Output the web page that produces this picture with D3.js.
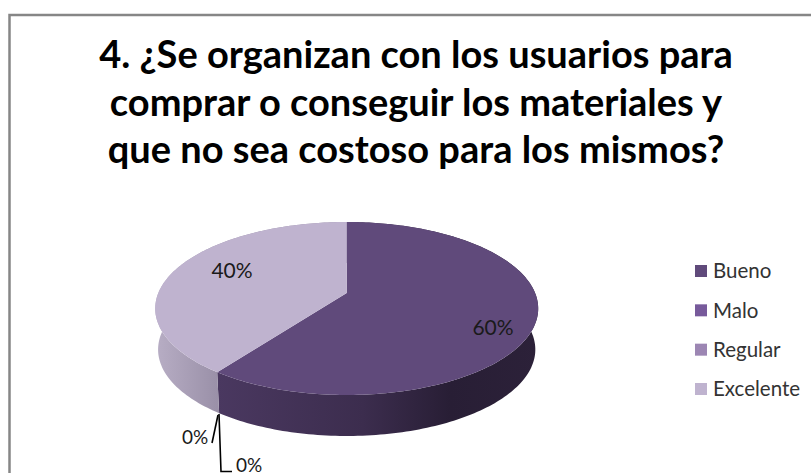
<!DOCTYPE html>
<html>
<head>
<meta charset="utf-8">
<script src="https://cdn.jsdelivr.net/npm/d3@7"></script>
<style>
  html, body { margin: 0; padding: 0; background: #fff; }
  svg { display: block; }
  text { font-family: Lato, "Open Sans", sans-serif; }
</style>
</head>
<body>
<div id="chart"></div>
<script>
var titleLines = ["4. ¿Se organizan con los usuarios para", "comprar o conseguir los materiales y", "que no sea costoso para los mismos?"];
var categories = ["Bueno", "Malo", "Regular", "Excelente"];
var values = [60, 0, 0, 40];
var colors = ["#604a7b", "#775a9b", "#9c86b3", "#bfb3cf"];

var svg = d3.select("#chart").append("svg").attr("width", 811).attr("height", 473);

// frame: only top and left show, the rest is cropped off
svg.append("path").attr("d", "M811,15H9.5V473")
    .attr("fill", "none").attr("stroke", "#868686").attr("stroke-width", 2.5);

svg.selectAll(".title").data(titleLines).enter().append("text")
    .attr("class", "title")
    .attr("x", 416)
    .attr("y", function (d, i) { return 68 + i * 47.5; })
    .attr("text-anchor", "middle")
    .attr("font-size", 38)
    .attr("font-weight", 700)
    .attr("fill", "#000")
    .text(function (d) { return d; });

// pie is tilted: unit circle goes through a perspective projection
var cx = 346.7, apexY = 293, kx = 188.4, ky = 31.3, persp = -0.179;
var depth = 41, bottomScale = 0.985;

function project(angle, scale, dy) {
    var u = Math.sin(angle), v = -Math.cos(angle);
    var w = 1 + persp * v;
    return [cx + scale * kx * u / w, (ky * v + apexY) / w + dy];
}

function rim(a0, a1, scale, dy) {
    var n = Math.max(2, Math.ceil(Math.abs(a1 - a0) / 0.02));
    return d3.range(n + 1).map(function (i) {
        return project(a0 + (a1 - a0) * i / n, scale, dy);
    });
}

var line = d3.line();
var pie = d3.pie().sort(null).value(function (d) { return d; });
var arcs = pie(values);

var defs = svg.append("defs");
var wallDark = defs.append("linearGradient").attr("id", "wallDark")
    .attr("gradientUnits", "userSpaceOnUse")
    .attr("x1", 218).attr("x2", 540).attr("y1", 0).attr("y2", 0);
wallDark.append("stop").attr("offset", 0).attr("stop-color", "#4a3860");
wallDark.append("stop").attr("offset", 0.45).attr("stop-color", "#3c2d4e");
wallDark.append("stop").attr("offset", 0.72).attr("stop-color", "#281e35");
wallDark.append("stop").attr("offset", 1).attr("stop-color", "#2c2139");
var wallLight = defs.append("linearGradient").attr("id", "wallLight")
    .attr("gradientUnits", "userSpaceOnUse")
    .attr("x1", 155).attr("x2", 218).attr("y1", 0).attr("y2", 0);
wallLight.append("stop").attr("offset", 0).attr("stop-color", "#b8aec5");
wallLight.append("stop").attr("offset", 1).attr("stop-color", "#9a90a8");

// side walls first
var wallFill = ["url(#wallDark)", null, null, "url(#wallLight)"];
arcs.forEach(function (a, i) {
    if (a.endAngle - a.startAngle <= 0) return;
    var top = rim(a.startAngle, a.endAngle, 1, 0);
    var bottom = rim(a.endAngle, a.startAngle, bottomScale, depth);
    svg.append("path").attr("d", line(top.concat(bottom)) + "Z").attr("fill", wallFill[i]);
});

// top faces
arcs.forEach(function (a, i) {
    if (a.endAngle - a.startAngle <= 0) return;
    var pts = rim(a.startAngle, a.endAngle, 1, 0);
    pts.push([cx, apexY]);
    svg.append("path").attr("d", line(pts) + "Z").attr("fill", colors[i]);
});

// leader lines of the two empty slices
svg.append("path").attr("d", "M218,415L212,443").attr("fill", "none").attr("stroke", "#000").attr("stroke-width", 1.6);
svg.append("path").attr("d", "M219,414L221,471.5L232,471.5").attr("fill", "none").attr("stroke", "#000").attr("stroke-width", 1.6);

// data labels, Bueno / Malo / Regular / Excelente
var labelX = [493, 195, 249, 232];
var labelY = [327, 437, 465, 270];
svg.selectAll(".lbl").data(values).enter().append("text")
    .attr("class", "lbl")
    .attr("x", function (d, i) { return labelX[i]; })
    .attr("y", function (d, i) { return labelY[i]; })
    .attr("dy", "0.36em")
    .attr("text-anchor", "middle")
    .attr("font-size", function (d) { return d > 0 ? 21 : 19; })
    .attr("fill", "#1a1a1a")
    .text(function (d) { return d + "%"; });

// legend
var legendY = d3.scalePoint().domain(categories).range([271, 389]);
svg.selectAll(".sw").data(categories).enter().append("rect")
    .attr("class", "sw")
    .attr("x", 695)
    .attr("y", function (d) { return legendY(d) - 6; })
    .attr("width", 12).attr("height", 12)
    .attr("fill", function (d, i) { return colors[i]; });
svg.selectAll(".leg").data(categories).enter().append("text")
    .attr("class", "leg")
    .attr("x", 713)
    .attr("y", function (d) { return legendY(d); })
    .attr("dy", "0.36em")
    .attr("font-size", 20.5)
    .attr("fill", "#333")
    .text(function (d) { return d; });
</script>
</body>
</html>
